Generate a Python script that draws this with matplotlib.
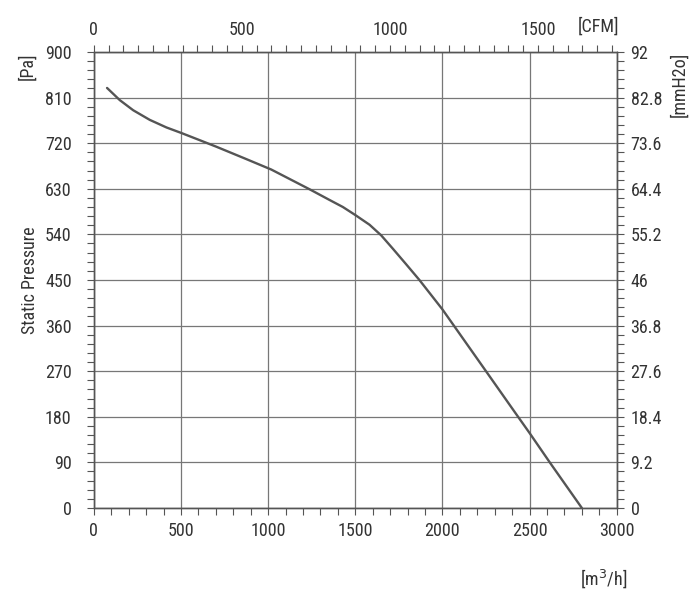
import numpy as np
import matplotlib
matplotlib.use('Agg')
import matplotlib.pyplot as plt
from matplotlib.ticker import MultipleLocator, FixedLocator

plt.rcParams['font.family'] = ['Roboto Condensed', 'Archivo Narrow', 'PT Sans Narrow',
                               'Liberation Sans', 'DejaVu Sans']

# fan curve: airflow [m3/h] vs static pressure [Pa]
flow = [76, 149, 226, 321, 417, 503, 607, 703, 865, 1018, 1238, 1352, 1429,
        1501, 1582, 1649, 1715, 1792, 1868, 2000, 2250, 2430, 2500, 2620, 2800]
pressure = [829, 805, 785, 766, 751, 740, 726, 713, 690, 668, 629, 608, 594,
            578, 559, 538, 512, 481, 450, 392, 270, 182, 148, 88, 0]

cfm_ticks = [0, 500, 1000, 1500]
mmh2o_ticks = [0, 9.2, 18.4, 27.6, 36.8, 46, 55.2, 64.4, 73.6, 82.8, 92]
m3h_per_cfm = 1.699

txt = '#333333'
axc = '#555555'
fs = 13

fig = plt.figure(figsize=(7.0, 5.96), dpi=100)
ax = fig.add_axes([0.134, 0.1477, 0.747, 0.7651])

ax.plot(flow, pressure, color='#555555', lw=1.7, solid_capstyle='round',
        solid_joinstyle='round', zorder=3)

ax.set_xlim(0, 3000)
ax.set_ylim(0, 900)
ax.xaxis.set_major_locator(MultipleLocator(500))
ax.xaxis.set_minor_locator(MultipleLocator(100))
ax.yaxis.set_major_locator(MultipleLocator(90))
ax.yaxis.set_minor_locator(MultipleLocator(18))
ax.grid(True, which='major', color='#777777', lw=0.9)
ax.set_axisbelow(True)

ax.tick_params(which='both', direction='out', length=5, width=0.8, color=axc,
               labelsize=fs, labelcolor=txt, pad=5)
ax.tick_params(axis='y', pad=11)

for s in ax.spines.values():
    s.set_color(axc)
    s.set_linewidth(0.9)

ax.set_ylabel('Static Pressure', fontsize=fs, color=txt, labelpad=4)
ax.text(-0.127, 0.969, '[Pa]', transform=ax.transAxes, rotation=90,
        fontsize=fs, color=txt, ha='center', va='center')

# top axis in CFM
top = ax.twiny()
top.set_xlim(0, 3000 / m3h_per_cfm)
top.xaxis.set_major_locator(FixedLocator(cfm_ticks))
top.xaxis.set_minor_locator(MultipleLocator(50))
top.tick_params(which='both', direction='out', length=5, width=0.8, color=axc,
                labelsize=fs, labelcolor=txt, pad=4)
ax.text(0.965, 1.055, '[CFM]', transform=ax.transAxes, fontsize=fs,
        color=txt, ha='center', va='center')

# right axis in mmH2O
right = ax.twinx()
right.set_ylim(0, 92)
right.yaxis.set_major_locator(FixedLocator(mmh2o_ticks))
right.yaxis.set_minor_locator(MultipleLocator(1.84))
right.set_yticklabels([f'{v:g}' for v in mmh2o_ticks])
right.tick_params(which='both', direction='out', length=5, width=0.8, color=axc,
                  labelsize=fs, labelcolor=txt, pad=5)
right.text(1.12, 0.93, '[mmH2o]', transform=ax.transAxes, rotation=90,
           fontsize=fs, color=txt, ha='center', va='center')

for a in (top, right):
    for s in a.spines.values():
        s.set_color(axc)
        s.set_linewidth(0.9)

ax.text(0.975, -0.155, '[m$^3$/h]', transform=ax.transAxes, fontsize=fs,
        color=txt, ha='center', va='center')

fig.savefig('out.png', dpi=100)
